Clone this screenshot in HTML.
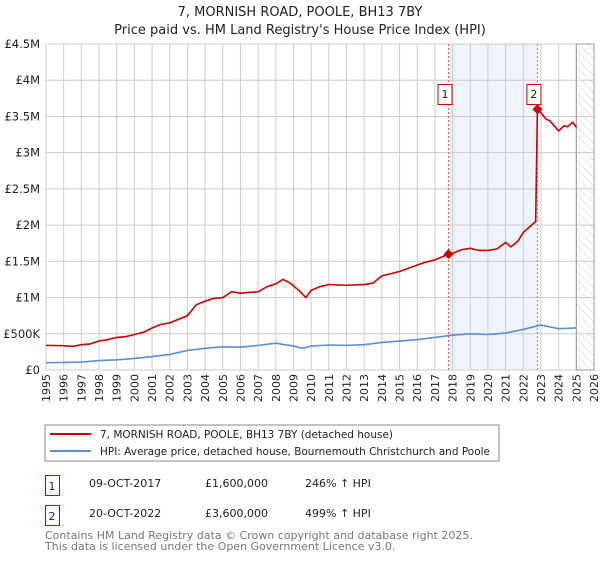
<!DOCTYPE html>
<html><head><meta charset="utf-8"><style>
body{margin:0;background:#fff;width:600px;height:560px;overflow:hidden;font-family:"Liberation Sans","DejaVu Sans",sans-serif;}
svg text{font-family:"DejaVu Sans","Liberation Sans",sans-serif;}
</style></head><body>
<svg id="chart" width="600" height="560" xmlns="http://www.w3.org/2000/svg">
<defs><pattern id="hatch" width="6" height="6" patternUnits="userSpaceOnUse" patternTransform="rotate(-45)"><line x1="0" y1="0" x2="0" y2="6" stroke="#ccc" stroke-width="1"/></pattern></defs>
<text x="300" y="16" text-anchor="middle" font-size="13" fill="#222">7, MORNISH ROAD, POOLE, BH13 7BY</text>
<text x="300" y="34" text-anchor="middle" font-size="13" fill="#222">Price paid vs. HM Land Registry's House Price Index (HPI)</text>
<g id="grid"></g><g id="marks"></g><g id="axes"></g>
<g>
<rect x="45" y="425" width="454" height="36" fill="#fff" stroke="#888"/>
<line x1="50" y1="434" x2="91" y2="434" stroke="#cc0000" stroke-width="2"/>
<text x="100" y="438" font-size="10.5" fill="#222" textLength="293" lengthAdjust="spacingAndGlyphs">7, MORNISH ROAD, POOLE, BH13 7BY (detached house)</text>
<line x1="50" y1="451" x2="91" y2="451" stroke="#5b8fd4" stroke-width="2"/>
<text x="100" y="455" font-size="10.5" fill="#222" textLength="390" lengthAdjust="spacingAndGlyphs">HPI: Average price, detached house, Bournemouth Christchurch and Poole</text>
</g>
<g font-size="11" fill="#222">
<rect x="45.5" y="475.5" width="14" height="20" fill="#fff" stroke="#cc0000"/><text x="52" y="490" text-anchor="middle">1</text>
<text x="89" y="487">09-OCT-2017</text><text x="205" y="487">£1,600,000</text><text x="305" y="487">246% ↑ HPI</text>
<rect x="45.5" y="505.5" width="14" height="20" fill="#fff" stroke="#cc0000"/><text x="52" y="520" text-anchor="middle">2</text>
<text x="89" y="517">20-OCT-2022</text><text x="205" y="517">£3,600,000</text><text x="305" y="517">499% ↑ HPI</text>
</g>
<text x="45" y="539" font-size="11" fill="#777">Contains HM Land Registry data © Crown copyright and database right 2025.</text>
<text x="45" y="550" font-size="11" fill="#777">This data is licensed under the Open Government Licence v3.0.</text>
</svg>
<script>
const years=[1995,1996,1997,1998,1999,2000,2001,2002,2003,2004,2005,2006,2007,2008,2009,2010,2011,2012,2013,2014,2015,2016,2017,2018,2019,2020,2021,2022,2023,2024,2025,2026];
const yTicks=[0,500,1000,1500,2000,2500,3000,3500,4000,4500];
const yTickLabels=["£0","£500K","£1M","£1.5M","£2M","£2.5M","£3M","£3.5M","£4M","£4.5M"];
const redT=[1995,1996,1996.5,1997,1997.5,1998,1998.5,1999,1999.5,2000,2000.5,2001,2001.5,2002,2002.5,2003,2003.5,2004,2004.5,2005,2005.5,2006,2006.5,2007,2007.5,2008,2008.4,2008.8,2009.3,2009.7,2010,2010.5,2011,2012,2013,2013.5,2014,2015,2016,2016.5,2017,2017.77,2018,2018.5,2019,2019.5,2020,2020.5,2021,2021.3,2021.7,2022,2022.7,2022.8,2023,2023.3,2023.5,2024,2024.3,2024.5,2024.8,2025];
const redV=[340,335,325,350,360,400,420,450,460,490,520,580,630,650,700,750,900,950,990,1000,1080,1060,1070,1080,1150,1190,1250,1200,1100,1000,1100,1150,1180,1170,1180,1200,1300,1360,1450,1490,1520,1600,1610,1660,1680,1650,1650,1670,1760,1700,1780,1900,2050,3600,3550,3460,3440,3300,3370,3360,3420,3350];
const hpiT=[1995,1996,1997,1998,1999,2000,2001,2002,2003,2004,2005,2006,2007,2008,2009,2009.5,2010,2011,2012,2013,2014,2015,2016,2017,2018,2019,2020,2021,2022,2022.8,2023,2024,2025];
const hpiV=[100,105,110,130,140,160,185,215,270,300,320,315,340,370,330,300,330,345,340,350,380,400,420,450,480,500,490,510,560,610,620,570,580];
const sales=[[2017.77,1600,"1"],[2022.8,3600,"2"]];
const X0=46,X1=594,Y0=370,Y1=44;
const xs=t=>X0+(t-1995)*(X1-X0)/31;
const ys=v=>Y0-v*(Y0-Y1)/4500;
const NS="http://www.w3.org/2000/svg";
function mk(tag,attrs,parent){const e=document.createElementNS(NS,tag);for(const k in attrs)e.setAttribute(k,attrs[k]);parent.appendChild(e);return e;}
const grid=document.getElementById('grid'),marks=document.getElementById('marks'),axes=document.getElementById('axes');
const sh=mk('rect',{x:xs(2017.77),y:Y1,width:xs(2022.8)-xs(2017.77),height:Y0-Y1,fill:'#eef3fc'},grid);


years.forEach(y=>{
 const l=mk('line',{x1:xs(y),x2:xs(y),y1:Y1,y2:Y0,stroke:'#ccc'},grid);
 
 
 const t=mk('text',{x:0,y:0,'font-size':11,fill:'#222',transform:`translate(${xs(y)+4},${Y0+4}) rotate(-90)`,'text-anchor':'end'},axes);
 t.textContent=y;
 
 
});
yTicks.forEach((v,i)=>{
 const l=mk('line',{x1:X0,x2:X1,y1:ys(v),y2:ys(v),stroke:'#ccc'},grid);
 
 
 const t=mk('text',{x:X0-6,y:ys(v)+4,'font-size':11.5,fill:'#222','text-anchor':'end'},axes);
 t.textContent=yTickLabels[i];
 
 
});
const ht=mk('rect',{x:xs(2025),y:Y1,width:X1-xs(2025),height:Y0-Y1,fill:'url(#hatch)',stroke:'#999'},grid);


sales.forEach(s=>{
 const l=mk('line',{x1:xs(s[0]),x2:xs(s[0]),y1:Y1,y2:Y0,stroke:'#f06060','stroke-dasharray':'2,2'},marks);
 
 
});
const hp=mk('polyline',{points:hpiT.map((t,i)=>xs(t)+','+ys(hpiV[i])).join(' '),fill:'none',stroke:'#5b8fd4','stroke-width':1.6},marks);


const rp=mk('polyline',{points:redT.map((t,i)=>xs(t)+','+ys(redV[i])).join(' '),fill:'none',stroke:'#cc0000','stroke-width':1.6},marks);


sales.forEach(s=>{
 const x=xs(s[0]),y=ys(s[1]);
 const d=mk('polygon',{points:`${x},${y-5} ${x+5},${y} ${x},${y+5} ${x-5},${y}`,fill:'#cc0000'},marks);
 
 
 const bx=x-11;
 const r=mk('rect',{x:bx+0.5,y:84.5,width:14,height:20,fill:'#fff',stroke:'#cc0000'},marks);
 
 
 const t=mk('text',{x:bx+7.5,y:98,'font-size':11,'text-anchor':'middle',fill:'#222'},marks);
 t.textContent=s[2];
 
 
});
</script>
</body></html>
